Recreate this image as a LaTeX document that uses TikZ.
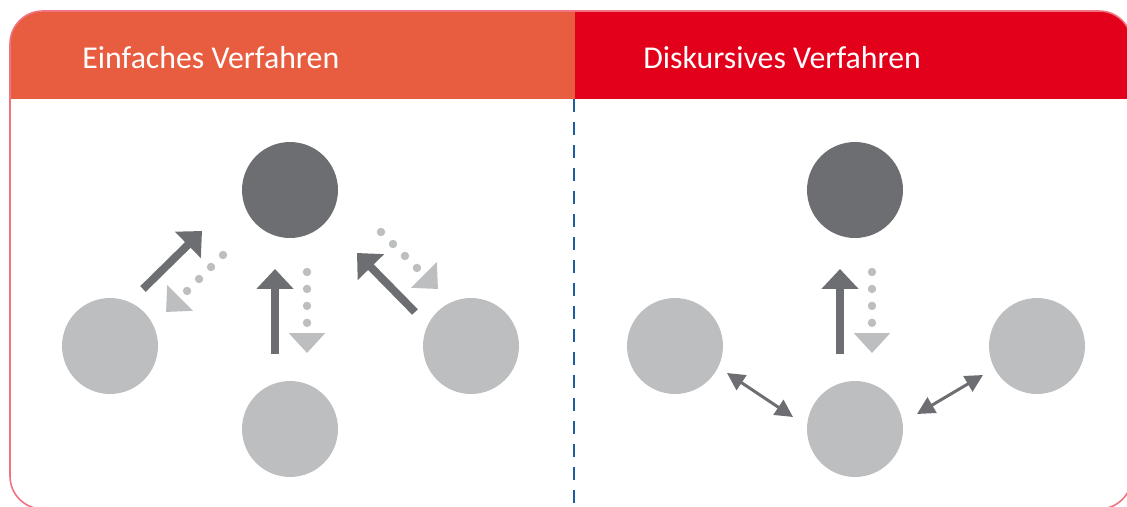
\documentclass[tikz,border=0pt]{standalone}
\usepackage{fontspec}
\setmainfont{Carlito}
\usetikzlibrary{arrows.meta}
\definecolor{hdrleft}{HTML}{E85D40}
\definecolor{hdrright}{HTML}{E2001A}
\definecolor{darkball}{HTML}{6D6E71}
\definecolor{lightball}{HTML}{BCBEC0}
\definecolor{divider}{HTML}{1F5C9E}

\begin{document}
\begin{tikzpicture}[x=0.02cm, y=-0.02cm,
		ball/.style={circle, inner sep=0pt, minimum size=1.92cm, fill=lightball},
		title/.style={anchor=base west, inner sep=0pt, text=white, font=\fontsize{18.1}{20}\selectfont},
		fat/.style={line width=4.5pt, darkball, -{Triangle[length=11.3pt, width=20.4pt]}},
		dots/.style={line width=4.8pt, lightball, line cap=round, dash pattern=on 0pt off 9.64pt, -{Triangle[length=11.3pt, width=20pt]}},
		both/.style={line width=1.7pt, darkball, {Triangle[length=10pt, width=10pt]}-{Triangle[length=10pt, width=10pt]}}]
	\useasboundingbox (0,0) rectangle (1127,507);
	\clip (0,0) rectangle (1127,507);
	\begin{scope}
		\clip (0,0) rectangle (575,98);
		\fill[hdrleft, rounded corners=33*0.567pt] (10,11) rectangle (1132,509);
	\end{scope}
	\begin{scope}
		\clip (575,0) rectangle (1127,98);
		\fill[hdrright, rounded corners=33*0.567pt] (10,11) rectangle (1132,509);
	\end{scope}
	\draw[hdrright!55, line width=0.9pt, rounded corners=33*0.567pt] (10,11) rectangle (1132,509);
	\draw[divider, line width=1.1pt, dash pattern=on 7.4pt off 5.7pt] (574,99) -- (574,507);

	\node[title] (einfach) at (82,69) {Einfaches Verfahren};
	\node[title] (diskurs) at (643,69) {Diskursives Verfahren};

	\node[ball, fill=darkball] (ltop) at (290,190) {};
	\node[ball] (lleft) at (110,346) {};
	\node[ball] (lright) at (471,346) {};
	\node[ball] (lbottom) at (290,429) {};
	\node[ball, fill=darkball] (rtop) at (855,190) {};
	\node[ball] (rleft) at (675,346) {};
	\node[ball] (rright) at (1037,346) {};
	\node[ball] (rbottom) at (855,429) {};

	\coordinate (la) at (143,289); \coordinate (lb) at (202,231);
	\coordinate (lc) at (223,255); \coordinate (ld) at (166,312);
	\coordinate (ma) at (275,354); \coordinate (mb) at (275,269);
	\coordinate (mc) at (307,272); \coordinate (md) at (307,353);
	\coordinate (ra) at (415,312); \coordinate (rb) at (357,253);
	\coordinate (rc) at (381,232); \coordinate (rd) at (438,289);
	\coordinate (na) at (840,354); \coordinate (nb) at (840,269);
	\coordinate (nc) at (872,272); \coordinate (nd) at (872,353);
	\coordinate (pa) at (727,373); \coordinate (pb) at (793,417);
	\coordinate (qa) at (917,414); \coordinate (qb) at (983,375);

	\draw[fat] (la) -- (lb);
	\draw[dots] (lc) -- (ld);
	\draw[fat] (ma) -- (mb);
	\draw[dots] (mc) -- (md);
	\draw[fat] (ra) -- (rb);
	\draw[dots] (rc) -- (rd);
	\draw[fat] (na) -- (nb);
	\draw[dots] (nc) -- (nd);
	\draw[both] (pa) -- (pb);
	\draw[both] (qa) -- (qb);
\end{tikzpicture}
\end{document}
